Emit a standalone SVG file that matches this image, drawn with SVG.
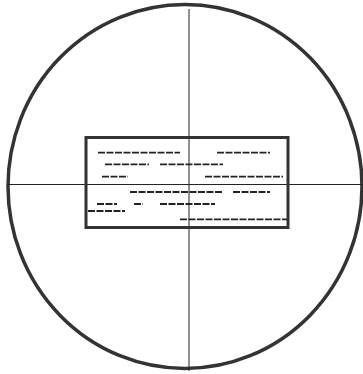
<svg xmlns="http://www.w3.org/2000/svg" width="363" height="374" viewBox="0 0 363 374">
<style>
.hair{stroke:#222;stroke-width:1;fill:none}
.w{stroke:#222;stroke-width:1.8;stroke-dasharray:7 1.5;fill:none}
</style>
<rect width="363" height="374" fill="#fff"/>
<g id="reticle">
<ellipse cx="185" cy="186.5" rx="177" ry="182" fill="none" stroke="#333" stroke-width="3.5"/>
<line class="hair" x1="189" y1="9" x2="189" y2="371"/>
<line class="hair" x1="8" y1="184.5" x2="362" y2="184.5"/>
</g>
<g id="label-box">
<rect x="86" y="137.5" width="202" height="90" fill="none" stroke="#333" stroke-width="3"/>
<g id="text-lines">
<line class="w" x1="98" y1="152.7" x2="180" y2="152.7"/>
<line class="w" x1="217" y1="152.7" x2="270" y2="152.7"/>
<line class="w" x1="105" y1="164.3" x2="149" y2="164.3"/>
<line class="w" x1="160" y1="164.3" x2="223" y2="164.3"/>
<line class="w" x1="102" y1="176.7" x2="128" y2="176.7"/>
<line class="w" x1="205" y1="176.7" x2="283" y2="176.7"/>
<line class="w" x1="130" y1="192" x2="222" y2="192"/>
<line class="w" x1="233" y1="192" x2="270" y2="192"/>
<line class="w" x1="97" y1="204" x2="117" y2="204"/>
<line class="w" x1="134" y1="204" x2="143" y2="204"/>
<line class="w" x1="160" y1="204" x2="215" y2="204"/>
<line class="w" x1="88" y1="211" x2="125" y2="211"/>
<line class="w" x1="180" y1="219.3" x2="287" y2="219.3"/>
</g>
</g>
</svg>
